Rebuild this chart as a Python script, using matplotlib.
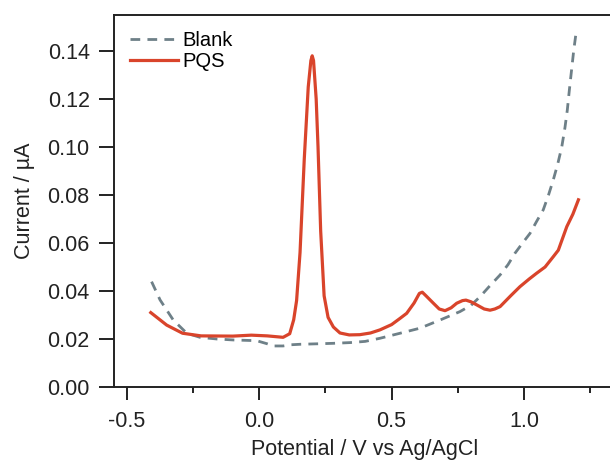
import numpy as np
import matplotlib
matplotlib.use("Agg")
import matplotlib.pyplot as plt
from matplotlib.ticker import MultipleLocator

# Blank (dashed gray) - potential in V, current in uA
blank_x = [-0.407, -0.375, -0.325, -0.274, -0.224, -0.16, -0.098, -0.01, 0.03, 0.053,
           0.09, 0.12, 0.154, 0.22, 0.28, 0.343, 0.40, 0.456, 0.532, 0.607,
           0.683, 0.758, 0.80, 0.834, 0.87, 0.91, 0.94, 0.966, 0.995, 1.023,
           1.048, 1.073, 1.093, 1.111, 1.128, 1.143, 1.155, 1.164, 1.172, 1.180,
           1.188, 1.196]
blank_y = [0.0439, 0.0363, 0.0279, 0.0224, 0.0207, 0.0200, 0.0196, 0.0193, 0.0180, 0.0171,
           0.0171, 0.0176, 0.0178, 0.0180, 0.0182, 0.0185, 0.0190, 0.0203, 0.0224, 0.0245,
           0.0279, 0.0314, 0.0340, 0.0376, 0.0420, 0.0467, 0.0510, 0.0557, 0.0600, 0.0640,
           0.0690, 0.0738, 0.0800, 0.0863, 0.0930, 0.1000, 0.1080, 0.1154, 0.1240, 0.1320,
           0.1400, 0.1467]

# PQS (solid red)
pqs_x = [-0.41, -0.35, -0.29, -0.22, -0.10, -0.03, 0.03, 0.09, 0.115, 0.13,
         0.141, 0.154, 0.17, 0.185, 0.195, 0.200, 0.205, 0.215, 0.222, 0.232,
         0.245, 0.26, 0.28, 0.305, 0.34, 0.38, 0.42, 0.456, 0.50, 0.532,
         0.557, 0.585, 0.605, 0.616, 0.63, 0.658, 0.68, 0.702, 0.725, 0.746,
         0.768, 0.781, 0.80, 0.822, 0.85, 0.872, 0.89, 0.91, 0.95, 0.985,
         1.02, 1.048, 1.08, 1.111, 1.13, 1.162, 1.185, 1.206]
pqs_y = [0.0310, 0.0258, 0.0224, 0.0213, 0.0212, 0.0216, 0.0213, 0.0207, 0.0222, 0.0280,
         0.0360, 0.0560, 0.0950, 0.1250, 0.1360, 0.1380, 0.1360, 0.1200, 0.1000, 0.0650,
         0.0380, 0.0290, 0.0250, 0.0225, 0.0217, 0.0218, 0.0225, 0.0238, 0.0260, 0.0286,
         0.0307, 0.0350, 0.0390, 0.0395, 0.0380, 0.0349, 0.0325, 0.0318, 0.0330, 0.0349,
         0.0360, 0.0362, 0.0355, 0.0342, 0.0325, 0.0320, 0.0325, 0.0335, 0.0380, 0.0418,
         0.0450, 0.0474, 0.0500, 0.0543, 0.0570, 0.0668, 0.0720, 0.0780]

plt.rcParams['font.family'] = ['Liberation Sans', 'DejaVu Sans']

fig = plt.figure(figsize=(6.1, 4.63), dpi=100)
ax = fig.add_axes([114 / 610, 76 / 463, 502 / 610, 372 / 463])

ax.plot(blank_x, blank_y, color='#6e8088', lw=2.0, ls=(0, (3.5, 2.6)), label='Blank')
ax.plot(pqs_x, pqs_y, color='#d9442b', lw=2.3, label='PQS')

ax.set_xlim(-0.549, 1.348)
ax.set_ylim(0, 0.155)
ax.xaxis.set_major_locator(MultipleLocator(0.5))
ax.xaxis.set_minor_locator(MultipleLocator(0.25))
ax.yaxis.set_major_locator(MultipleLocator(0.02))
ax.yaxis.set_major_formatter(matplotlib.ticker.FormatStrFormatter('%.2f'))
ax.xaxis.set_major_formatter(matplotlib.ticker.FormatStrFormatter('%.1f'))

for s in ax.spines.values():
    s.set_linewidth(1.4)
    s.set_color('#222222')

ax.tick_params(axis='y', which='major', direction='out', length=10.5, width=1.4,
               labelsize=15.5, pad=7, colors='#222222')
ax.tick_params(axis='x', which='major', direction='out', length=9.5, width=1.4,
               labelsize=15.5, pad=8, colors='#222222')
ax.tick_params(axis='x', which='minor', direction='out', length=4.5, width=1.4,
               colors='#222222')

ax.set_xlabel('Potential / V vs Ag/AgCl', fontsize=15.5, color='#222222', labelpad=5)
ax.set_ylabel('Current / µA', fontsize=15.5, color='#222222', labelpad=9)

ax.legend(loc='upper left', frameon=False, fontsize=14.5, handlelength=2.4,
          handletextpad=0.2, labelspacing=0.1, borderaxespad=0.4,
          bbox_to_anchor=(0.0, 1.0))

fig.savefig('out.png', dpi=100)
